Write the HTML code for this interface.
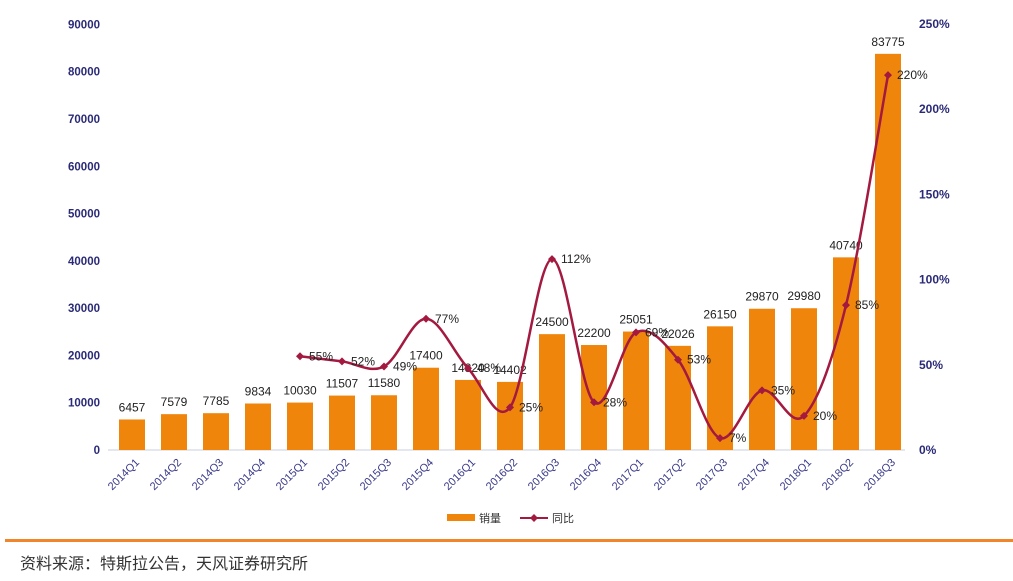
<!DOCTYPE html><html><head><meta charset="utf-8"><style>body{margin:0;background:#fff;width:1013px;height:576px;overflow:hidden;font-family:"Liberation Sans","Noto Sans CJK SC",sans-serif}</style></head><body>
<svg id="s" width="1013" height="576" xmlns="http://www.w3.org/2000/svg" font-family="Liberation Sans, Noto Sans CJK SC, sans-serif"></svg>
<div style="position:absolute;left:5px;top:539px;width:1008px;height:3px;background:#f0852a"></div>
<div style="position:absolute;left:20px;top:550px;font-size:16px;color:#333;font-family:'Liberation Sans','Noto Sans CJK SC',sans-serif">资料来源：特斯拉公告，天风证券研究所</div>
<script>
const s=document.getElementById('s');let h='';
const labs=['2014Q1','2014Q2','2014Q3','2014Q4','2015Q1','2015Q2','2015Q3','2015Q4','2016Q1','2016Q2','2016Q3','2016Q4','2017Q1','2017Q2','2017Q3','2017Q4','2018Q1','2018Q2','2018Q3'];
const v=[6457,7579,7785,9834,10030,11507,11580,17400,14820,14402,24500,22200,25051,22026,26150,29870,29980,40740,83775];
const p=[null,null,null,null,55,52,49,77,48,25,112,28,69,53,7,35,20,85,220];
const B=450,yv=x=>B-x*425.6/90000,yp=x=>B-x*426/250,cx=i=>132+i*42;
for(let k=0;k<=9;k++){h+=`<text x="100" y="${yv(k*10000)+4}" font-size="11.5" font-weight="bold" fill="#2a2a78" text-anchor="end">${k*10000}</text>`}
for(let k=0;k<=5;k++){h+=`<text x="919" y="${yp(k*50)+4}" font-size="12" font-weight="bold" fill="#2a2a78">${k*50}%</text>`}
h+=`<line x1="108" y1="450" x2="905" y2="450" stroke="#c8d0dc" stroke-width="1"/>`;
v.forEach((d,i)=>{h+=`<rect x="${cx(i)-13}" y="${yv(d)}" width="26" height="${B-yv(d)}" fill="#f0850c"/>`;
h+=`<text x="${cx(i)}" y="${yv(d)-8}" font-size="12" fill="#222" text-anchor="middle">${d}</text>`;
h+=`<text transform="translate(${cx(i)+8},463) rotate(-45)" font-size="11" fill="#3a3a8a" text-anchor="end">${labs[i]}</text>`;});
const pts=[];p.forEach((d,i)=>{if(d!=null)pts.push([cx(i),yp(d)])});
let d=`M${pts[0][0]},${pts[0][1]}`;
for(let i=0;i<pts.length-1;i++){const p0=pts[i-1]||pts[i],p1=pts[i],p2=pts[i+1],p3=pts[i+2]||p2;const t=1/6;
d+=` C${p1[0]+(p2[0]-p0[0])*t},${p1[1]+(p2[1]-p0[1])*t} ${p2[0]-(p3[0]-p1[0])*t},${p2[1]-(p3[1]-p1[1])*t} ${p2[0]},${p2[1]}`}
h+=`<path d="${d}" fill="none" stroke="#a3193f" stroke-width="2.5"/>`;
p.forEach((q,i)=>{if(q==null)return;const x=cx(i),y=yp(q);h+=`<path d="M${x-4},${y} L${x},${y-4} L${x+4},${y} L${x},${y+4}Z" fill="#a3193f"/>`;
h+=`<text x="${x+9}" y="${y+4}" font-size="12" fill="#222">${q}%</text>`});
h+=`<rect x="447" y="514" width="28" height="7" fill="#f0850c"/><text x="479" y="522" font-size="11" fill="#333">销量</text>`;
h+=`<line x1="520" y1="518" x2="548" y2="518" stroke="#a3193f" stroke-width="2"/><path d="M530,518 L534,514 L538,518 L534,522Z" fill="#a3193f"/><text x="552" y="522" font-size="11" fill="#333">同比</text>`;
s.innerHTML=h;
</script></body></html>
